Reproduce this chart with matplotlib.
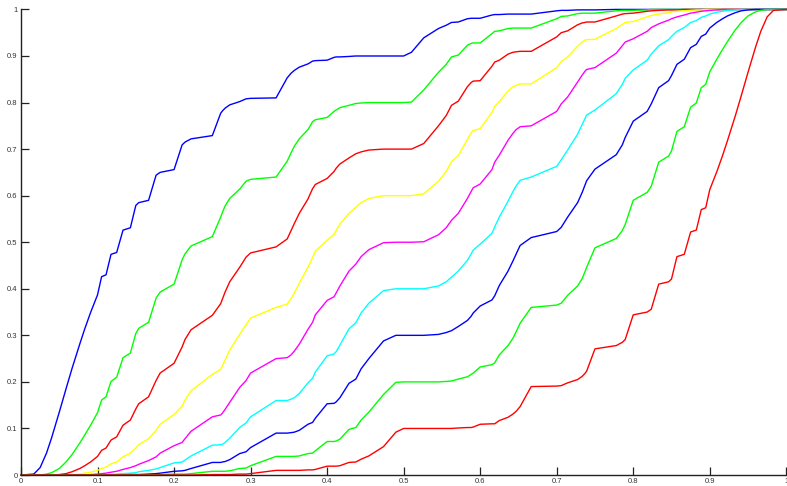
import matplotlib
matplotlib.use('Agg')
import matplotlib.pyplot as plt

# x positions where the curves were read (same grid for every curve)
x_vals = [0.0, 0.0167, 0.025, 0.0333, 0.04, 0.05, 0.0588, 0.0667, 0.0769, 0.0833,
          0.0909, 0.1, 0.1053, 0.1111, 0.1176, 0.125, 0.1333, 0.1429, 0.15, 0.1538,
          0.1667, 0.1765, 0.1818, 0.2, 0.2105, 0.2143, 0.2222, 0.25, 0.2609, 0.2632,
          0.2667, 0.2727, 0.2857, 0.2941, 0.3, 0.3333, 0.3478, 0.3529, 0.3571, 0.3636,
          0.375, 0.381, 0.3846, 0.4, 0.4091, 0.4118, 0.4167, 0.4286, 0.4375, 0.4444,
          0.4545, 0.4737, 0.4898, 0.5,
          0.5102, 0.5263, 0.5455, 0.5556, 0.5625, 0.5714, 0.5833, 0.5882, 0.5909, 0.6,
          0.6154, 0.619, 0.625, 0.6364, 0.6429, 0.6471, 0.6522, 0.6667, 0.7, 0.7059,
          0.7143, 0.7273, 0.7333, 0.7368, 0.7391, 0.75, 0.7778, 0.7857, 0.7895, 0.8,
          0.8182, 0.8235, 0.8333, 0.8462, 0.85, 0.8571, 0.8667, 0.875, 0.8824, 0.8889,
          0.8947, 0.9, 0.9091, 0.9167, 0.9231, 0.9333, 0.9412, 0.95, 0.96, 0.9667,
          0.975, 0.9833, 1.0]

y_p90 = [0.0, 0.002, 0.016, 0.047, 0.080, 0.135, 0.185, 0.229, 0.282, 0.314,
         0.349, 0.387, 0.426, 0.430, 0.474, 0.478, 0.526, 0.531, 0.579, 0.585,
         0.590, 0.644, 0.650, 0.656, 0.709, 0.715, 0.722, 0.729, 0.777, 0.782,
         0.788, 0.795, 0.802, 0.808, 0.809, 0.810, 0.853, 0.863, 0.869, 0.876,
         0.883, 0.889, 0.890, 0.891, 0.897, 0.898, 0.898, 0.899, 0.900, 0.900,
         0.900, 0.900, 0.900, 0.900,
         0.908, 0.939, 0.959, 0.966, 0.972, 0.973, 0.980, 0.981, 0.981, 0.981,
         0.988, 0.989, 0.989, 0.990, 0.990, 0.990, 0.990, 0.990, 0.997, 0.998,
         0.998, 0.999, 0.999, 0.999, 0.999, 0.999, 1.0, 1.0, 1.0, 1.0,
         1.0, 1.0, 1.0, 1.0, 1.0, 1.0, 1.0, 1.0, 1.0, 1.0,
         1.0, 1.0, 1.0, 1.0, 1.0, 1.0, 1.0, 1.0, 1.0, 1.0,
         1.0, 1.0, 1.0]

y_p80 = [0.0, 0.0, 0.0, 0.002, 0.005, 0.014, 0.028, 0.044, 0.069, 0.086,
         0.107, 0.134, 0.161, 0.168, 0.201, 0.210, 0.252, 0.262, 0.304, 0.315,
         0.328, 0.380, 0.393, 0.410, 0.462, 0.475, 0.492, 0.512, 0.554, 0.564,
         0.578, 0.594, 0.614, 0.631, 0.635, 0.640, 0.674, 0.692, 0.706, 0.722,
         0.742, 0.759, 0.763, 0.768, 0.781, 0.784, 0.789, 0.794, 0.798, 0.799,
         0.800, 0.800, 0.800, 0.800,
         0.801, 0.827, 0.865, 0.882, 0.898, 0.902, 0.923, 0.927, 0.928, 0.928,
         0.948, 0.953, 0.954, 0.959, 0.960, 0.960, 0.960, 0.960, 0.980, 0.985,
         0.986, 0.991, 0.992, 0.992, 0.992, 0.992, 0.997, 0.998, 0.998, 0.998,
         0.999, 1.0, 1.0, 1.0, 1.0, 1.0, 1.0, 1.0, 1.0, 1.0,
         1.0, 1.0, 1.0, 1.0, 1.0, 1.0, 1.0, 1.0, 1.0, 1.0,
         1.0, 1.0, 1.0]

y_p70 = [0.0, 0.0, 0.0, 0.0, 0.0, 0.001, 0.003, 0.007, 0.014, 0.020,
         0.028, 0.040, 0.053, 0.058, 0.075, 0.082, 0.107, 0.118, 0.142, 0.153,
         0.168, 0.203, 0.219, 0.240, 0.275, 0.291, 0.312, 0.343, 0.368, 0.378,
         0.393, 0.415, 0.446, 0.468, 0.477, 0.490, 0.507, 0.525, 0.540, 0.562,
         0.593, 0.615, 0.624, 0.637, 0.652, 0.659, 0.668, 0.681, 0.690, 0.694,
         0.698, 0.700, 0.700, 0.700,
         0.700, 0.712, 0.750, 0.772, 0.794, 0.803, 0.834, 0.843, 0.846, 0.847,
         0.878, 0.887, 0.891, 0.904, 0.908, 0.909, 0.910, 0.910, 0.941, 0.950,
         0.954, 0.967, 0.971, 0.972, 0.973, 0.973, 0.986, 0.990, 0.991, 0.992,
         0.996, 0.997, 0.998, 0.999, 0.999, 0.999, 1.0, 1.0, 1.0, 1.0,
         1.0, 1.0, 1.0, 1.0, 1.0, 1.0, 1.0, 1.0, 1.0, 1.0,
         1.0, 1.0, 1.0]

y_p60 = [0.0, 0.0, 0.0, 0.0, 0.0, 0.0, 0.0, 0.001, 0.002, 0.004,
         0.006, 0.010, 0.014, 0.017, 0.024, 0.028, 0.039, 0.047, 0.058, 0.065,
         0.078, 0.096, 0.109, 0.130, 0.148, 0.161, 0.181, 0.216, 0.227, 0.235,
         0.247, 0.268, 0.302, 0.323, 0.337, 0.360, 0.367, 0.379, 0.391, 0.412,
         0.446, 0.467, 0.481, 0.504, 0.517, 0.525, 0.539, 0.562, 0.575, 0.585,
         0.594, 0.600, 0.600, 0.600,
         0.600, 0.604, 0.631, 0.652, 0.673, 0.686, 0.721, 0.735, 0.740, 0.744,
         0.779, 0.792, 0.802, 0.825, 0.834, 0.837, 0.840, 0.840, 0.875, 0.888,
         0.898, 0.921, 0.930, 0.934, 0.935, 0.936, 0.959, 0.968, 0.972, 0.974,
         0.984, 0.987, 0.990, 0.993, 0.995, 0.996, 0.997, 0.998, 0.999, 0.999,
         1.0, 1.0, 1.0, 1.0, 1.0, 1.0, 1.0, 1.0, 1.0, 1.0,
         1.0, 1.0, 1.0]

y_p50 = [0.0, 0.0, 0.0, 0.0, 0.0, 0.0, 0.0, 0.0, 0.0, 0.0,
         0.001, 0.002, 0.003, 0.004, 0.006, 0.008, 0.012, 0.016, 0.020, 0.023,
         0.031, 0.039, 0.047, 0.063, 0.070, 0.078, 0.094, 0.125, 0.129, 0.133,
         0.141, 0.156, 0.188, 0.203, 0.219, 0.250, 0.252, 0.258, 0.266, 0.281,
         0.313, 0.328, 0.344, 0.375, 0.383, 0.391, 0.406, 0.438, 0.453, 0.469,
         0.484, 0.499, 0.500, 0.500,
         0.500, 0.501, 0.516, 0.531, 0.547, 0.562, 0.594, 0.609, 0.617, 0.625,
         0.656, 0.672, 0.687, 0.719, 0.734, 0.742, 0.748, 0.750, 0.781, 0.797,
         0.812, 0.844, 0.859, 0.867, 0.871, 0.875, 0.906, 0.922, 0.930, 0.937,
         0.953, 0.961, 0.969, 0.977, 0.980, 0.984, 0.988, 0.992, 0.994, 0.996,
         0.997, 0.998, 0.999, 1.0, 1.0, 1.0, 1.0, 1.0, 1.0, 1.0,
         1.0, 1.0, 1.0]

y_p40 = [0.0, 0.0, 0.0, 0.0, 0.0, 0.0, 0.0, 0.0, 0.0, 0.0,
         0.0, 0.0, 0.0, 0.001, 0.001, 0.002, 0.003, 0.004, 0.005, 0.007,
         0.010, 0.013, 0.016, 0.026, 0.028, 0.032, 0.041, 0.064, 0.065, 0.066,
         0.070, 0.079, 0.102, 0.112, 0.125, 0.160, 0.160, 0.163, 0.166, 0.175,
         0.198, 0.208, 0.221, 0.256, 0.260, 0.265, 0.279, 0.314, 0.327, 0.348,
         0.369, 0.396, 0.400, 0.400,
         0.400, 0.400, 0.406, 0.415, 0.425, 0.438, 0.461, 0.475, 0.483, 0.496,
         0.519, 0.533, 0.554, 0.588, 0.609, 0.621, 0.633, 0.640, 0.663, 0.677,
         0.698, 0.732, 0.753, 0.765, 0.773, 0.784, 0.819, 0.839, 0.852, 0.870,
         0.891, 0.904, 0.922, 0.935, 0.942, 0.953, 0.961, 0.972, 0.976, 0.983,
         0.986, 0.990, 0.994, 0.996, 0.998, 0.999, 1.0, 1.0, 1.0, 1.0,
         1.0, 1.0, 1.0]

y_p30 = [0.0, 0.0, 0.0, 0.0, 0.0, 0.0, 0.0, 0.0, 0.0, 0.0,
         0.0, 0.0, 0.0, 0.0, 0.0, 0.0, 0.0, 0.001, 0.001, 0.001,
         0.002, 0.003, 0.004, 0.008, 0.009, 0.010, 0.014, 0.027, 0.027, 0.028,
         0.029, 0.033, 0.046, 0.050, 0.059, 0.090, 0.090, 0.091, 0.092, 0.096,
         0.109, 0.113, 0.122, 0.153, 0.154, 0.157, 0.166, 0.197, 0.206, 0.228,
         0.250, 0.288, 0.300, 0.300,
         0.300, 0.300, 0.302, 0.306, 0.310, 0.319, 0.332, 0.341, 0.348, 0.363,
         0.376, 0.385, 0.407, 0.438, 0.460, 0.475, 0.493, 0.510, 0.523, 0.532,
         0.554, 0.585, 0.607, 0.622, 0.632, 0.657, 0.688, 0.709, 0.725, 0.760,
         0.781, 0.797, 0.832, 0.847, 0.858, 0.882, 0.893, 0.918, 0.925, 0.942,
         0.947, 0.960, 0.972, 0.980, 0.986, 0.993, 0.997, 0.999, 1.0, 1.0,
         1.0, 1.0, 1.0]

y_p20 = [0.0, 0.0, 0.0, 0.0, 0.0, 0.0, 0.0, 0.0, 0.0, 0.0,
         0.0, 0.0, 0.0, 0.0, 0.0, 0.0, 0.0, 0.0, 0.0, 0.0,
         0.0, 0.0, 0.001, 0.002, 0.002, 0.002, 0.003, 0.008, 0.008, 0.008,
         0.008, 0.009, 0.014, 0.015, 0.020, 0.040, 0.040, 0.040, 0.040, 0.041,
         0.046, 0.047, 0.052, 0.072, 0.072, 0.073, 0.077, 0.098, 0.102, 0.118,
         0.135, 0.173, 0.199, 0.200,
         0.200, 0.200, 0.200, 0.201, 0.202, 0.206, 0.211, 0.216, 0.219, 0.232,
         0.237, 0.241, 0.258, 0.278, 0.294, 0.308, 0.326, 0.360, 0.365, 0.369,
         0.386, 0.406, 0.422, 0.436, 0.446, 0.488, 0.508, 0.525, 0.538, 0.590,
         0.607, 0.620, 0.672, 0.685, 0.696, 0.738, 0.748, 0.790, 0.799, 0.832,
         0.839, 0.866, 0.893, 0.914, 0.931, 0.956, 0.972, 0.986, 0.995, 0.998,
         1.0, 1.0, 1.0]

y_p10 = [0.0, 0.0, 0.0, 0.0, 0.0, 0.0, 0.0, 0.0, 0.0, 0.0,
         0.0, 0.0, 0.0, 0.0, 0.0, 0.0, 0.0, 0.0, 0.0, 0.0,
         0.0, 0.0, 0.0, 0.0, 0.0, 0.0, 0.0, 0.001, 0.001, 0.001,
         0.001, 0.001, 0.002, 0.002, 0.003, 0.010, 0.010, 0.010, 0.010, 0.010,
         0.011, 0.011, 0.012, 0.019, 0.019, 0.019, 0.020, 0.027, 0.028, 0.034,
         0.041, 0.061, 0.092, 0.100,
         0.100, 0.100, 0.100, 0.100, 0.100, 0.101, 0.102, 0.102, 0.103, 0.109,
         0.110, 0.110, 0.117, 0.124, 0.131, 0.137, 0.147, 0.190, 0.191, 0.192,
         0.198, 0.205, 0.212, 0.218, 0.223, 0.271, 0.278, 0.285, 0.291, 0.344,
         0.350, 0.356, 0.410, 0.415, 0.421, 0.469, 0.474, 0.522, 0.526, 0.570,
         0.574, 0.613, 0.651, 0.686, 0.718, 0.771, 0.815, 0.865, 0.920, 0.953,
         0.984, 0.998, 1.0]

curves = [
    (y_p90, '#0000ff'),
    (y_p80, '#00ff00'),
    (y_p70, '#ff0000'),
    (y_p60, '#ffff00'),
    (y_p50, '#ff00ff'),
    (y_p40, '#00ffff'),
    (y_p30, '#0000ff'),
    (y_p20, '#00ff00'),
    (y_p10, '#ff0000'),
]

ticks = [0, 0.1, 0.2, 0.3, 0.4, 0.5, 0.6, 0.7, 0.8, 0.9, 1]
tick_labels = ['0', '0.1', '0.2', '0.3', '0.4', '0.5', '0.6', '0.7', '0.8', '0.9', '1']

fig = plt.figure(figsize=(7.87, 4.86), dpi=100)
ax = fig.add_axes([0.0267, 0.0226, 0.9724, 0.958])

for y, col in curves:
    ax.plot(x_vals, y, color=col, lw=1.0, clip_on=False)

ax.set_xlim(0, 1)
ax.set_ylim(0, 1)
ax.set_xticks(ticks)
ax.set_xticklabels(tick_labels)
ax.set_yticks(ticks)
ax.set_yticklabels(tick_labels)

for side in ['top', 'right']:
    ax.spines[side].set_visible(False)
for side in ['left', 'bottom']:
    ax.spines[side].set_linewidth(1.0)
    ax.spines[side].set_color('#222222')

ax.tick_params(direction='in', length=6, width=0.9, color='#222222',
               labelsize=5.5, labelcolor='#333333', pad=2.5)
for lab in ax.get_xticklabels() + ax.get_yticklabels():
    lab.set_family('Liberation Sans')

fig.savefig('out.png', dpi=100)
